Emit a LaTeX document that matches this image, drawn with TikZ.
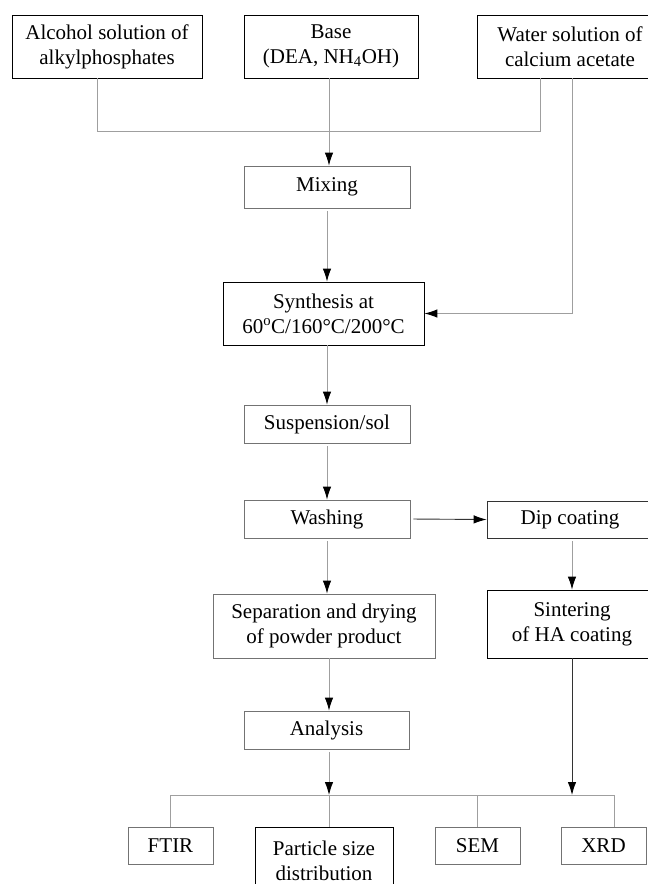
\documentclass[tikz,border=0pt]{standalone}
\usepackage{fontspec}
\setmainfont{Liberation Serif}
\usetikzlibrary{arrows.meta,positioning,calc}

\tikzset{
    box/.style={draw=black, line width=0.8pt, align=center, inner sep=0pt,
        minimum width=166pt, minimum height=38pt, font=\fontsize{21}{25}\selectfont},
    gbox/.style={box, draw=black!55},
    link/.style={draw=gray!75, line width=0.9pt},
    dlink/.style={draw=black!80, line width=0.9pt},
    tip/.style={-{Latex[length=13pt,width=8.5pt,color=black]}},
}

\begin{document}
\begin{tikzpicture}[x=1pt, y=-1pt]
    \clip (0,0) rectangle (648,884);

    % starting solutions
    \node[box, minimum width=190pt, minimum height=63pt] (alc) at (107,46.5) {Alcohol solution of\\alkylphosphates};
    \node[box, minimum width=174pt, minimum height=63pt] (base) at (331,46.5) {Base\\(DEA, NH\textsubscript{4}OH)};
    \node[box, minimum width=186pt, minimum height=63pt] (water) at (570,46.5) {Water solution of\\calcium acetate};

    % main route
    \node[gbox, minimum height=42pt] (mix) at (327,187) {Mixing};
    \node[box, minimum width=201pt, minimum height=63pt] (syn) at (323.5,313.5) {Synthesis at\\60\textsuperscript{o}C/160°C/200°C};
    \node[gbox] (susp) at (327,424) {Suspension/sol};
    \node[gbox] (wash) at (327,519) {Washing};
    \node[gbox, minimum width=222pt, minimum height=64pt] (sep) at (324,626) {Separation and drying\\of powder product};
    \node[gbox, minimum width=165pt] (ana) at (326.5,730) {Analysis};

    % coating route
    \node[box, draw=black!80, minimum height=37pt] (dip) at (570,519.5) {Dip coating};
    \node[box, minimum width=170pt, minimum height=68pt] (sint) at (572,624) {Sintering\\of HA coating};

    % methods
    \node[gbox, minimum width=85pt, minimum height=37pt] (ftir) at (170.5,845.5) {FTIR};
    \node[box, minimum width=138pt, minimum height=67pt] (part) at (324,860.5) {Particle size\\distribution};
    \node[gbox, minimum width=85pt, minimum height=37pt] (sem) at (477.5,845.5) {SEM};
    \node[gbox, minimum width=85pt, minimum height=37pt] (xrd) at (603.5,845.5) {XRD};

    \coordinate (bus) at (329,795);

    % connectors
    \draw[link] ([xshift=-10pt]alc.south) -- ++(0,53) -| ([xshift=-30pt]water.south);
    \draw[link,tip] ([xshift=-2pt]base.south) -- ([xshift=-2pt]base.south |- mix.north);
    \draw[link,tip] ([xshift=2pt]water.south) |- (syn.east);
    \draw[link,tip,shorten <=3pt] (mix.south) -- (mix.south |- syn.north);
    \draw[link,tip] ([xshift=3.5pt]syn.south) -- ([xshift=3.5pt]syn.south |- susp.north);
    \draw[link,tip,shorten <=3pt] (susp.south) -- (wash.north);
    \draw[dlink,tip,shorten <=3pt] (wash.east) -- (dip.west);
    \draw[link,tip,shorten <=3pt] (wash.south) -- (wash.south |- sep.north);
    \draw[link,tip,shorten <=3pt] ([xshift=2pt]dip.south) -- (sint.north);
    \draw[link,tip] ([xshift=5pt]sep.south) -- ([xshift=5pt]sep.south |- ana.north);
    \draw[link,tip,shorten <=3pt] ([xshift=2.5pt]ana.south) -- (bus);
    \draw[dlink,tip] (sint.south) -- (sint.south |- bus);

    % branches to methods
    \draw[link] (ftir.north) -- (ftir.north |- bus) -| ([xshift=10.5pt]xrd.north);
    \draw[link] (sem.north) -- (sem.north |- bus);
    \draw[link] (bus) -- (bus |- part.north);
\end{tikzpicture}
\end{document}
